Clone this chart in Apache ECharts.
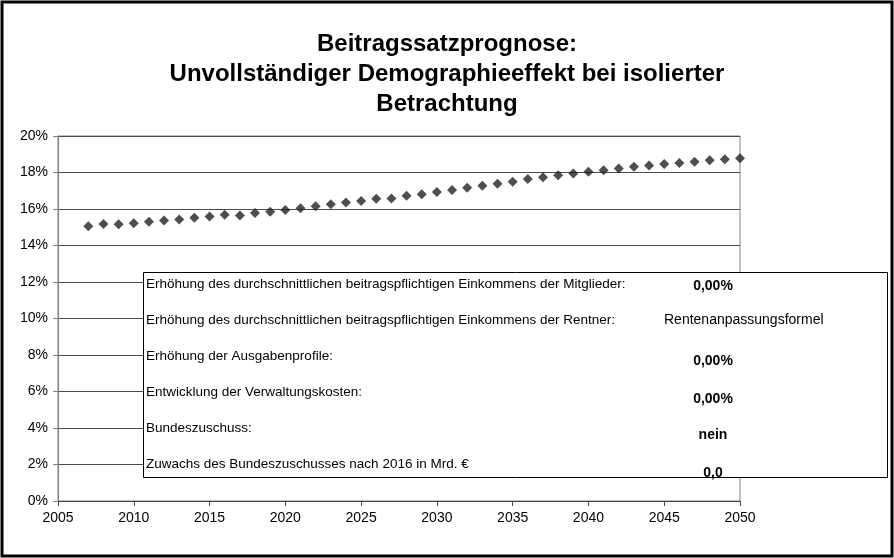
<!DOCTYPE html>
<html>
<head>
<meta charset="utf-8">
<script src="https://cdn.jsdelivr.net/npm/echarts@6/dist/echarts.min.js"></script>
<style>
  html, body { margin: 0; padding: 0; background: #fff; }
  #chart { width: 894px; height: 558px; }
</style>
</head>
<body>
<div id="chart"></div>
<script>
const years = [2007, 2008, 2009, 2010, 2011, 2012, 2013, 2014, 2015, 2016, 2017, 2018, 2019, 2020, 2021,
  2022, 2023, 2024, 2025, 2026, 2027, 2028, 2029, 2030, 2031, 2032, 2033, 2034, 2035, 2036, 2037, 2038,
  2039, 2040, 2041, 2042, 2043, 2044, 2045, 2046, 2047, 2048, 2049, 2050]
const rates = [15.05, 15.18, 15.17, 15.22, 15.30, 15.37, 15.43, 15.52, 15.59, 15.68, 15.65, 15.78, 15.85,
  15.94, 16.04, 16.15, 16.26, 16.35, 16.44, 16.56, 16.58, 16.72, 16.81, 16.93, 17.04, 17.17, 17.28, 17.39,
  17.50, 17.65, 17.74, 17.85, 17.94, 18.04, 18.13, 18.22, 18.32, 18.39, 18.46, 18.52, 18.59, 18.67, 18.72, 18.78]

const titleLines = ['Beitragssatzprognose:', 'Unvollständiger Demographieeffekt bei isolierter', 'Betrachtung']

// Annahmen im Textkasten
const infoLabels = [
  'Erhöhung des durchschnittlichen beitragspflichtigen Einkommens der Mitglieder:',
  'Erhöhung des durchschnittlichen beitragspflichtigen Einkommens der Rentner:',
  'Erhöhung der Ausgabenprofile:',
  'Entwicklung der Verwaltungskosten:',
  'Bundeszuschuss:',
  'Zuwachs des Bundeszuschusses nach 2016 in Mrd. €'
]
const infoValues = ['0,00%', 'Rentenanpassungsformel', '0,00%', '0,00%', 'nein', '0,0']

const FONT = 'Arial, "Liberation Sans", sans-serif'

const chart = echarts.init(document.getElementById('chart'))

const labelY = [284, 320, 356, 392, 428, 464]
const valueDy = [2, 0, 5, 7, 7, 9]
const boxTexts = []
infoLabels.forEach((t, i) => {
  boxTexts.push({
    type: 'text',
    x: 146,
    y: labelY[i],
    z: 20,
    style: { text: t, font: '13.5px ' + FONT, fill: '#000', verticalAlign: 'middle' }
  })
})
infoValues.forEach((t, i) => {
  const isLong = i === 1
  boxTexts.push({
    type: 'text',
    x: isLong ? 664 : 713,
    y: labelY[i] + valueDy[i],
    z: 20,
    style: {
      text: t,
      font: isLong ? '14px ' + FONT : 'bold 14px ' + FONT,
      fill: '#000',
      align: isLong ? 'left' : 'center',
      verticalAlign: 'middle'
    }
  })
})

const option = {
  animation: false,
  backgroundColor: '#fff',
  title: {
    text: titleLines.join('\n'),
    left: 'center',
    top: 24,
    textStyle: { fontFamily: FONT, fontSize: 24, fontWeight: 'bold', color: '#000', lineHeight: 30 }
  },
  grid: {
    left: 58,
    right: 154,
    top: 136,
    bottom: 57,
    show: true,
    borderColor: '#808080',
    borderWidth: 1
  },
  xAxis: {
    type: 'value',
    min: 2005,
    max: 2050,
    interval: 5,
    axisLine: { show: true, lineStyle: { color: '#444', width: 1 } },
    axisTick: { show: true, length: 5, lineStyle: { color: '#444' } },
    axisLabel: { color: '#000', fontFamily: FONT, fontSize: 14, margin: 10, formatter: (v) => String(v) },
    splitLine: { show: false }
  },
  yAxis: {
    type: 'value',
    min: 0,
    max: 20,
    interval: 2,
    axisLine: { show: true, lineStyle: { color: '#808080', width: 1 } },
    axisTick: { show: true, length: 5, lineStyle: { color: '#808080' } },
    axisLabel: { color: '#000', fontFamily: FONT, fontSize: 14, margin: 10, formatter: '{value}%' },
    splitLine: { show: true, lineStyle: { color: '#4a4a4a', width: 1 } }
  },
  series: [
    {
      type: 'scatter',
      data: years.map((y, i) => [y, rates[i]]),
      symbol: 'diamond',
      symbolSize: [10, 10],
      itemStyle: { color: '#222' },
      z: 3
    }
  ],
  graphic: [
    {
      type: 'rect',
      shape: { x: 143.5, y: 272.5, width: 744, height: 205 },
      style: { fill: '#fff', stroke: '#000', lineWidth: 1 },
      z: 10
    },
    ...boxTexts,
    {
      type: 'rect',
      shape: { x: 2, y: 2, width: 890, height: 554 },
      style: { fill: 'none', stroke: '#000', lineWidth: 3 },
      z: 12
    }
  ]
}

chart.setOption(option)
</script>
</body>
</html>
